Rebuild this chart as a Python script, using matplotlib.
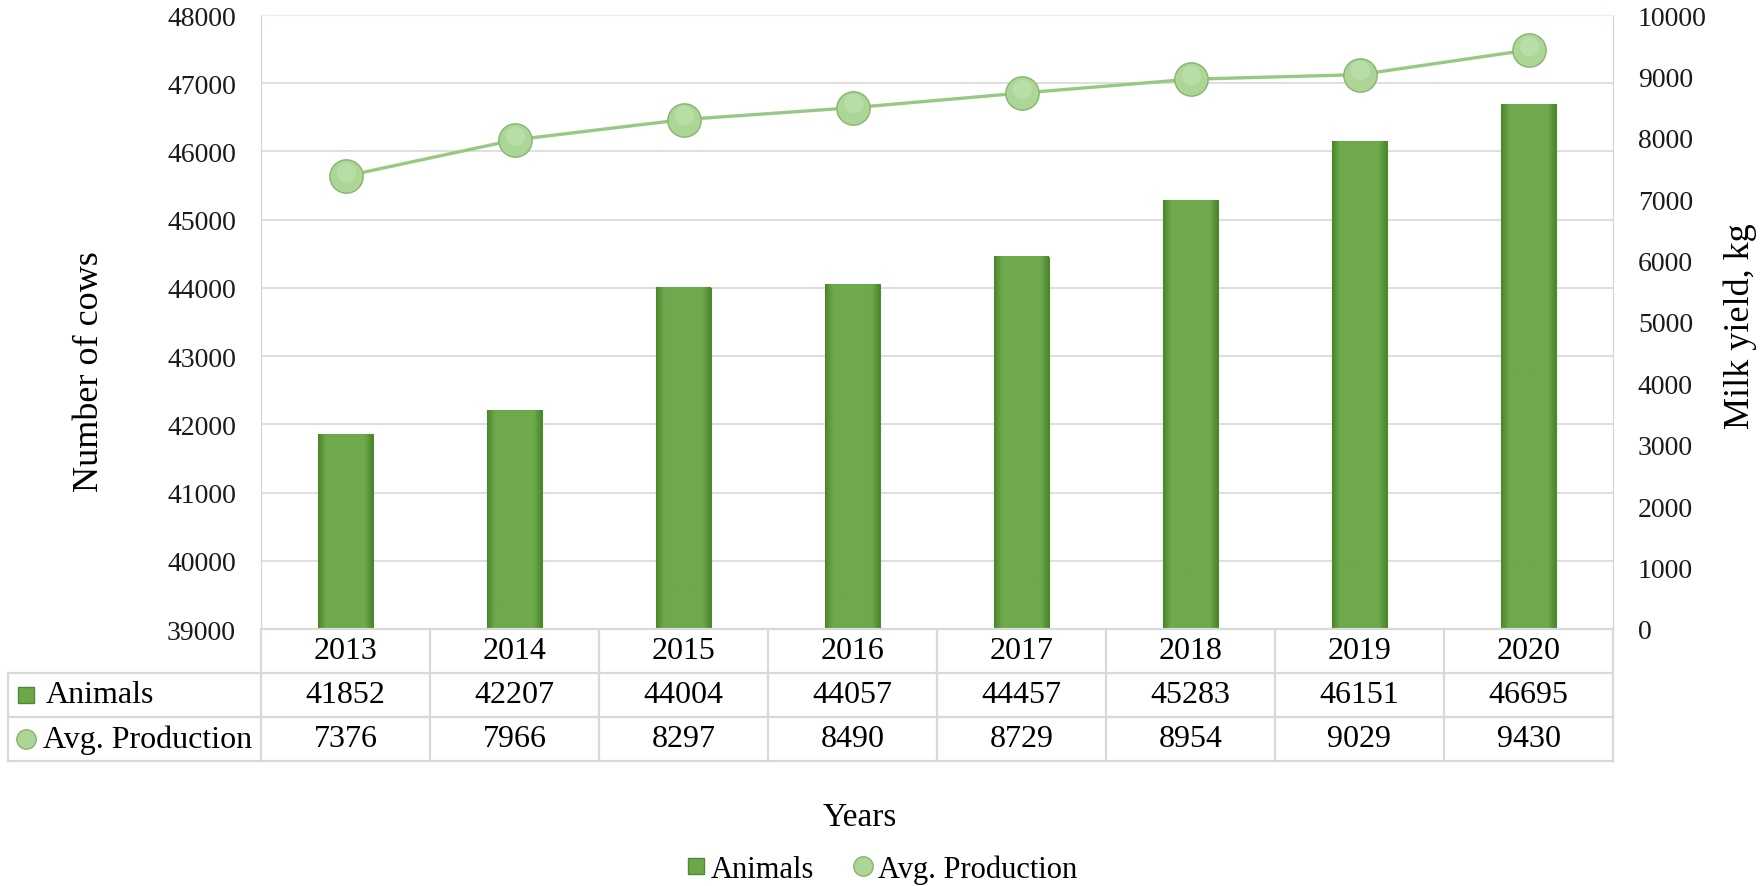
import numpy as np
import matplotlib
matplotlib.use('Agg')
import matplotlib.pyplot as plt
import matplotlib.transforms as mtransforms
from matplotlib.lines import Line2D

plt.rcParams['font.family'] = ['Liberation Serif', 'DejaVu Serif']
SERIF = ['Liberation Serif', 'DejaVu Serif']

years = ['2013', '2014', '2015', '2016', '2017', '2018', '2019', '2020']
animals = [41852, 42207, 44004, 44057, 44457, 45283, 46151, 46695]
avg_production = [7376, 7966, 8297, 8490, 8729, 8954, 9029, 9430]

bar_color = '#6ca84b'
bar_dark = '#4e8a30'
line_color = '#98c983'
marker_face = '#acd596'
marker_edge = '#86b56e'
grid_color = '#d9d9d9'
axis_blue = '#c9daf0'

fig = plt.figure(figsize=(17.61, 8.87), dpi=100)
W, H = 1761, 887
ax = fig.add_axes([261 / W, (H - 630) / H, 1352 / W, 614 / H])
ax2 = ax.twinx()

x = np.arange(len(years))

# bars, shaded darker at the sides
bars = ax.bar(x, np.array(animals) - 39000, bottom=39000, width=0.32,
              color=bar_color, edgecolor=bar_dark, linewidth=0.8, zorder=2)
t = np.linspace(0, 1, 60)
shade = np.clip(np.minimum(t, 1 - t) * 7, 0, 1)[None, :]
cmap = matplotlib.colors.LinearSegmentedColormap.from_list('g', ['#4a862c', '#6fa94e'])
for b in bars:
    ax.imshow(shade, cmap=cmap, aspect='auto', zorder=2.5, interpolation='bilinear',
              extent=(b.get_x(), b.get_x() + b.get_width(), b.get_y(), b.get_y() + b.get_height()))
ax.set_xlim(-0.5, 7.5)
ax.set_ylim(39000, 48000)
ax.set_yticks(range(39000, 48001, 1000))
ax.grid(axis='y', color=grid_color, lw=1.2, zorder=0)
ax.set_axisbelow(True)
ax.set_xticks([])
ax.tick_params(axis='y', length=0, pad=18, labelsize=20, labelcolor='#1a1a1a')

ax2.plot(x, avg_production, color=line_color, lw=2.4, zorder=3)
ax2.plot(x, avg_production, 'o', ms=24, mfc=marker_face, mec=marker_edge, mew=1.0, zorder=4)
ax2.plot(x, np.array(avg_production) + 70, 'o', ms=14, mfc='#c3e4b1', mec='none', alpha=0.6, zorder=5)
ax2.set_ylim(0, 10000)
ax2.set_yticks(range(0, 10001, 1000))
ax2.tick_params(axis='y', length=0, pad=18, labelsize=20, labelcolor='#1a1a1a')

for a in (ax, ax2):
    a.spines['left'].set_color(axis_blue)
    a.spines['right'].set_color(axis_blue)
    a.spines['top'].set_color('#e8eef7')
    a.spines['bottom'].set_color(grid_color)
    a.spines['bottom'].set_linewidth(1.5)
    for lab in a.get_yticklabels():
        lab.set_family(SERIF)

ax.set_ylabel('Number of cows', fontsize=26, va='center', family=SERIF)
ax.yaxis.set_label_coords(-0.1265, 0.42)
ax2.set_ylabel('Milk yield, kg', fontsize=26, va='center', rotation=90, family=SERIF)
ax2.yaxis.set_label_coords(1.094, 0.495)

# data table under the axis
tr = mtransforms.blended_transform_factory(ax.transData, ax.transAxes)
r1, r2, r3 = -44 / 614, -88 / 614, -132 / 614
kw = dict(transform=tr, clip_on=False, color=grid_color, lw=1.6)
for k in range(9):
    ax.plot([k - 0.5, k - 0.5], [0, r3], **kw)
ax.plot([-2.0, -2.0], [r1, r3], **kw)
for r in (r1, r2, r3):
    ax.plot([-2.0, 7.5], [r, r], **kw)

tk = dict(transform=tr, va='center', fontsize=23, family=SERIF)
for i in range(len(years)):
    ax.text(i, (0 + r1) / 2, years[i], ha='center', **tk)
    ax.text(i, (r1 + r2) / 2, str(animals[i]), ha='center', **tk)
    ax.text(i, (r2 + r3) / 2, str(avg_production[i]), ha='center', **tk)

ax.plot([-1.89], [(r1 + r2) / 2], 's', ms=12, mfc=bar_color, mec=bar_dark, transform=tr, clip_on=False)
ax.text(-1.775, (r1 + r2) / 2, 'Animals', ha='left', **tk)
ax.plot([-1.893], [(r2 + r3) / 2], 'o', ms=14, mfc=marker_face, mec=marker_edge, transform=tr, clip_on=False)
ax.text(-1.787, (r2 + r3) / 2, 'Avg. Production', ha='left', **tk)

fig.text(860 / W, 1 - 818 / H, 'Years', ha='center', va='center', fontsize=24, family=SERIF)

handles = [Line2D([], [], ls='none', marker='s', ms=12, mfc=bar_color, mec=bar_dark),
           Line2D([], [], ls='none', marker='o', ms=14, mfc=marker_face, mec=marker_edge)]
fig.legend(handles, ['Animals', 'Avg. Production'], loc='center', bbox_to_anchor=(0.5, 17 / H),
           ncol=2, frameon=False, prop={'family': SERIF, 'size': 22},
           handletextpad=0.1, columnspacing=1.2, handlelength=0.8)

fig.savefig('out.png', dpi=100)
